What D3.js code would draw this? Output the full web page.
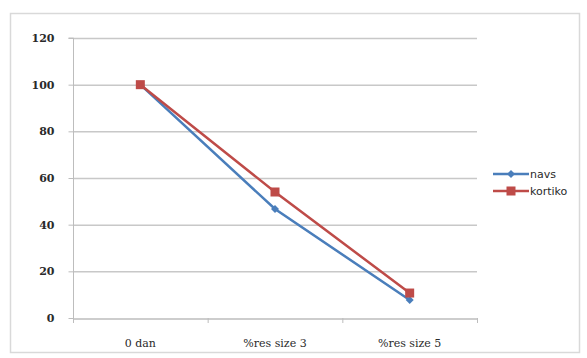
<!DOCTYPE html>
<html><head><meta charset="utf-8">
<script src="https://cdn.jsdelivr.net/npm/d3@7"></script>
<style>body{margin:0;background:#fff}svg{display:block}</style>
</head><body>
<svg id="c" width="587" height="358"></svg>
<script>
const categories = ["0 dan", "%res size 3", "%res size 5"];
const navs = [100, 46.7, 7.7];
const kortiko = [100, 54, 10.7];
const yTicks = [0, 20, 40, 60, 80, 100, 120];
const seriesNames = ["navs", "kortiko"];

const svg = d3.select("#c");
svg.append("rect").attr("x", 10.5).attr("y", 13.5).attr("width", 569).attr("height", 339)
  .attr("fill", "#fff").attr("stroke", "#d9d9d9").attr("stroke-width", 1.5);

const pLeft = 73, pRight = 477, pTop = 38, pBottom = 318;
const x = d3.scaleBand().domain(categories).range([pLeft, pRight]);
const y = d3.scaleLinear().domain([0, 120]).range([pBottom, pTop]);

// gridlines
svg.append("g").selectAll("line").data(yTicks.filter(d => d > 0)).join("line")
  .attr("x1", pLeft).attr("x2", pRight).attr("y1", d => y(d) + 0.5).attr("y2", d => y(d) + 0.5)
  .attr("stroke", "#c8c8c8").attr("stroke-width", 1.5);

// y axis
const ya = svg.append("g").attr("transform", `translate(${pLeft + 0.5},0)`)
  .call(d3.axisLeft(y).tickValues(yTicks).tickSize(5).tickPadding(14));
ya.select(".domain").attr("stroke", "#bdbdbd").attr("d", `M-5,${y(120)}H0V${y(0)}`);
ya.selectAll(".tick line").attr("stroke", "#bdbdbd");
ya.selectAll("text").attr("font-family", "DejaVu Serif, serif").attr("font-size", 11)
  .attr("font-weight", "bold").attr("fill", "#2a2a2a");

// x axis
const xa = svg.append("g").attr("transform", `translate(0,${pBottom + 0.5})`)
  .call(d3.axisBottom(x).tickSize(0).tickPadding(21));
xa.select(".domain").attr("stroke", "#bdbdbd").attr("stroke-width", 1.5);
xa.selectAll("text").attr("font-family", "DejaVu Serif, serif").attr("font-size", 11).attr("fill", "#2a2a2a");
const bounds = categories.map(c => x(c)).concat([pRight]);
svg.append("g").selectAll("line").data(bounds).join("line")
  .attr("x1", d => d + 0.5).attr("x2", d => d + 0.5).attr("y1", pBottom).attr("y2", pBottom + 5)
  .attr("stroke", "#bdbdbd");

const cx = c => x(c) + x.bandwidth() / 2;
const line = d3.line().x((d, i) => cx(categories[i])).y(d => y(d));
const colors = {navs: "#4a7ebb", kortiko: "#be4b48"};

function drawSeries(vals, name) {
  svg.append("path").attr("d", line(vals)).attr("fill", "none")
    .attr("stroke", colors[name]).attr("stroke-width", 2.5);
}
function marker(g, name, px, py) {
  if (name === "navs") {
    g.append("path").attr("d", `M${px},${py - 4}L${px + 4},${py}L${px},${py + 4}L${px - 4},${py}Z`)
      .attr("fill", colors[name]);
  } else {
    g.append("rect").attr("x", px - 4.5).attr("y", py - 4.5).attr("width", 9).attr("height", 9)
      .attr("fill", colors[name]);
  }
}
drawSeries(navs, "navs");
drawSeries(kortiko, "kortiko");
const mg = svg.append("g");
navs.forEach((v, i) => marker(mg, "navs", cx(categories[i]), y(v)));
kortiko.forEach((v, i) => marker(mg, "kortiko", cx(categories[i]), y(v)));

// legend
const lg = svg.append("g");
seriesNames.forEach((n, i) => {
  const ly = 174 + i * 17;
  lg.append("line").attr("x1", 493).attr("x2", 529).attr("y1", ly).attr("y2", ly)
    .attr("stroke", colors[n]).attr("stroke-width", 2.5);
  marker(lg, n, 511, ly);
  lg.append("text").attr("x", 530).attr("y", ly + 4).text(n)
    .attr("font-family", "DejaVu Sans, sans-serif").attr("font-size", 11).attr("fill", "#2a2a2a");
});
</script>
</body></html>
